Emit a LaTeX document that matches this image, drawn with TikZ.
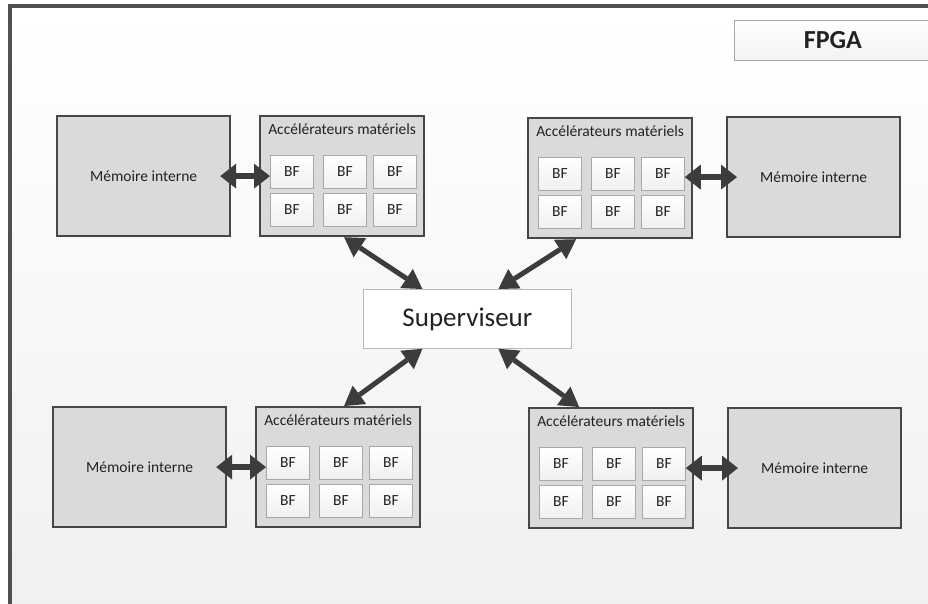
\documentclass[tikz,border=0pt]{standalone}
\usepackage{fontspec}
\setmainfont{Carlito}
\usetikzlibrary{positioning,arrows.meta,calc}
\definecolor{cadre}{HTML}{505050}
\definecolor{fondbas}{HTML}{EFF0F2}
\definecolor{boite}{HTML}{D9DADC}
\definecolor{bord}{HTML}{464646}
\definecolor{bordclair}{HTML}{A8A8A8}
\definecolor{fleche}{HTML}{3C3C3C}
\definecolor{texte}{HTML}{222222}

\tikzset{
  membox/.style={draw=bord, line width=2.2pt, fill=boite, minimum width=173pt, minimum height=120pt,
    anchor=north west, inner sep=0pt, font=\fontsize{15.5}{18}\selectfont, text=texte},
  accbox/.style={draw=bord, line width=2.2pt, fill=boite, minimum width=164pt, minimum height=120pt,
    anchor=north west, inner sep=0pt},
  acctitle/.style={inner sep=0pt, font=\fontsize{15.5}{18}\selectfont, text=texte},
  bfbox/.style={draw=bordclair, line width=0.8pt, top color=white, bottom color=gray!12,
    minimum width=43pt, minimum height=33pt, anchor=north west, inner sep=0pt,
    font=\fontsize{15.5}{18}\selectfont, text=texte},
  lien/.style={fleche, line width=6pt,
    {Triangle[width=25pt,length=16pt,line width=0pt]}-{Triangle[width=25pt,length=16pt,line width=0pt]}},
  liendiag/.style={fleche, line width=5pt,
    {Triangle[width=23pt,length=19pt,line width=0pt]}-{Triangle[width=23pt,length=19pt,line width=0pt]}},
}

\begin{document}
\begin{tikzpicture}[x=1pt,y=-1pt]
  \useasboundingbox (0,0) rectangle (928,603);
  \clip (0,0) rectangle (928,603);
  \fill[white] (0,0) rectangle (928,603);
  \shade[top color=white, bottom color=fondbas] (9.5,6) rectangle (950,620);
  \draw[cadre, line width=4pt] (9.5,6) rectangle (950,620);

  \node[draw=bordclair, line width=0.8pt, top color=white, bottom color=gray!10, minimum width=197pt,
    minimum height=40pt, anchor=north west, font=\bfseries\fontsize{26}{30}\selectfont, text=texte]
    (fpga) at (734,20) {FPGA};
  \node[draw=gray!55, line width=0.8pt, fill=white, minimum width=208pt, minimum height=59pt,
    anchor=north west, font=\fontsize{27}{32}\selectfont, text=texte] (sup) at (363,289) {Superviseur};

  \foreach \g/\mx/\my/\ax/\ay/\col/\ba/\ma in {tl/56/115/259/115/1/west/east, tr/726/116/527/117/3/east/west,
      bl/52/406/255/406/1/west/east, br/727/407/528/407/3/east/west} {
    \node[membox] (mem\g) at (\mx,\my) {Mémoire interne};
    \node[accbox] (acc\g) at (\ax,\ay) {};
    \node[acctitle] (tit\g) at ([yshift=-14pt]acc\g.north) {Accélérateurs matériels};
    \foreach \r/\dy in {1/40,2/78} {
      \foreach \c/\dx in {1/11,2/64,3/114} {
        \node[bfbox] (bf\g\r\c) at (\ax+\dx,\ay+\dy) {BF};
      }
    }
    \draw[lien, shorten <=-11pt] (mem\g.\ma) -- (mem\g.\ma -| bf\g1\col.\ba);
  }

  \draw[liendiag] ([xshift=2pt]acctl.south) -- ([xshift=-45pt]sup.north);
  \draw[liendiag] ([xshift=-34pt]acctr.south) -- ([xshift=31pt]sup.north);
  \draw[liendiag] ([xshift=6pt]accbl.north) -- ([xshift=-45pt]sup.south);
  \draw[liendiag] ([xshift=-32pt]accbr.north) -- ([xshift=31pt]sup.south);
\end{tikzpicture}
\end{document}
